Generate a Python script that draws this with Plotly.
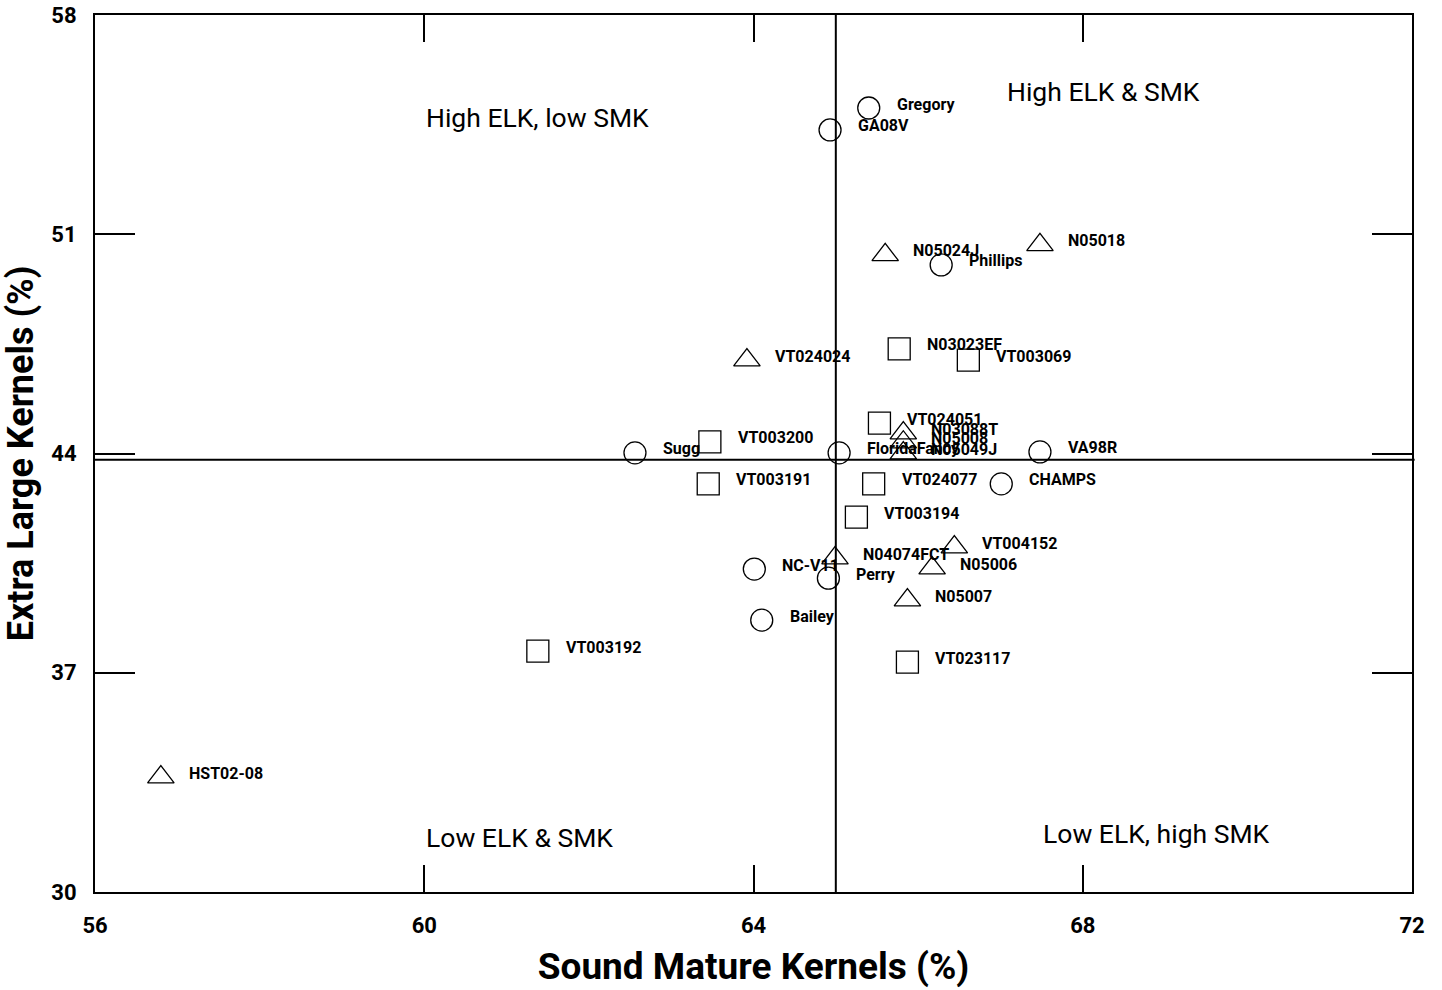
import plotly.graph_objects as go

# Genotypes grouped by marker type
circle_names = ["Gregory", "GA08V", "Phillips", "Sugg", "FloridaFancy", "VA98R",
                "CHAMPS", "NC-V11", "Perry", "Bailey"]
circle_smk = [65.40, 64.93, 66.28, 62.56, 65.04, 67.48, 67.01, 64.01, 64.91, 64.10]
circle_elk = [55.03, 54.33, 50.02, 44.02, 44.02, 44.05, 43.03, 40.31, 40.02, 38.68]

triangle_names = ["N05024J", "N05018", "VT024024", "N03088T", "N05008", "N05049J",
                  "VT004152", "N04074FCT", "N05006", "N05007", "HST02-08"]
triangle_smk = [65.60, 67.48, 63.92, 65.82, 65.82, 65.82, 66.44, 64.99, 66.17, 65.87, 56.80]
triangle_elk = [50.34, 50.66, 46.98, 44.65, 44.36, 44.01, 41.01, 40.66, 40.34, 39.32, 33.67]

square_names = ["N03023EF", "VT003069", "VT024051", "VT003200", "VT003191", "VT024077",
                "VT003194", "VT003192", "VT023117"]
square_smk = [65.77, 66.61, 65.53, 63.47, 63.45, 65.46, 65.25, 61.38, 65.87]
square_elk = [47.34, 46.98, 44.97, 44.37, 43.03, 43.03, 41.97, 37.69, 37.34]

# Quadrant split values
smk_split = 65.0
elk_split = 43.8

quadrant_labels = ["High ELK, low SMK", "High ELK & SMK", "Low ELK & SMK", "Low ELK, high SMK"]
quadrant_x = [60.0, 67.06, 60.0, 67.49]
quadrant_y = [54.74, 55.57, 31.75, 31.88]

x_ticks = [56, 60, 64, 68, 72]
y_ticks = [30, 37, 44, 51, 58]

FONT = "Roboto, Liberation Sans Narrow, sans-serif"

fig = go.Figure()

groups = [
    (circle_names, circle_smk, circle_elk, "circle-open", 22),
    (triangle_names, triangle_smk, triangle_elk, "triangle-up-open", 23),
    (square_names, square_smk, square_elk, "square-open", 22),
]

for names, xs, ys, symbol, size in groups:
    fig.add_trace(go.Scatter(
        x=xs, y=ys, mode="markers", showlegend=False,
        marker=dict(symbol=symbol, size=size, color="black",
                    line=dict(color="black", width=1.3)),
        hovertext=names,
    ))
    for n, x, y in zip(names, xs, ys):
        fig.add_annotation(
            x=x, y=y, text=n, showarrow=False, xanchor="left", yanchor="middle",
            xshift=26, yshift=4,
            font=dict(family=FONT, size=16, color="black", weight="bold"),
        )

# Quadrant dividing lines
fig.add_shape(type="line", xref="x", yref="paper", x0=smk_split, x1=smk_split, y0=0, y1=1,
              line=dict(color="black", width=2))
fig.add_shape(type="line", xref="paper", yref="y", x0=0, x1=1.002, y0=elk_split, y1=elk_split,
              line=dict(color="black", width=2))

for t, x, y in zip(quadrant_labels, quadrant_x, quadrant_y):
    fig.add_annotation(x=x, y=y, text=t, showarrow=False, xanchor="left", yanchor="middle",
                       font=dict(family=FONT, size=26.5, color="black"))

fig.update_xaxes(
    range=[56, 72], tickvals=x_ticks, ticks="inside", ticklen=27, tickwidth=1.5,
    tickcolor="black", mirror="ticks", showline=True, linecolor="black", linewidth=2,
    showgrid=False, zeroline=False, automargin=False,
    tickfont=dict(family=FONT, size=22, color="black", weight="bold"),
    ticklabelstandoff=13,
    title=dict(text="Sound Mature Kernels (%)", standoff=16,
               font=dict(family=FONT, size=37, color="black", weight="bold")),
)
fig.update_yaxes(
    range=[30, 58], tickvals=y_ticks, ticks="inside", ticklen=40, tickwidth=1.5,
    tickcolor="black", mirror="ticks", showline=True, linecolor="black", linewidth=2,
    showgrid=False, zeroline=False, automargin=False,
    tickfont=dict(family=FONT, size=22, color="black", weight="bold"),
    ticklabelstandoff=12,
    title=dict(text="Extra Large Kernels (%)", standoff=10,
               font=dict(family=FONT, size=36, color="black", weight="bold")),
)

fig.update_layout(
    width=1442, height=990,
    margin=dict(l=95, r=30, t=15, b=98),
    plot_bgcolor="white", paper_bgcolor="white",
)

fig.write_html("out.html")
